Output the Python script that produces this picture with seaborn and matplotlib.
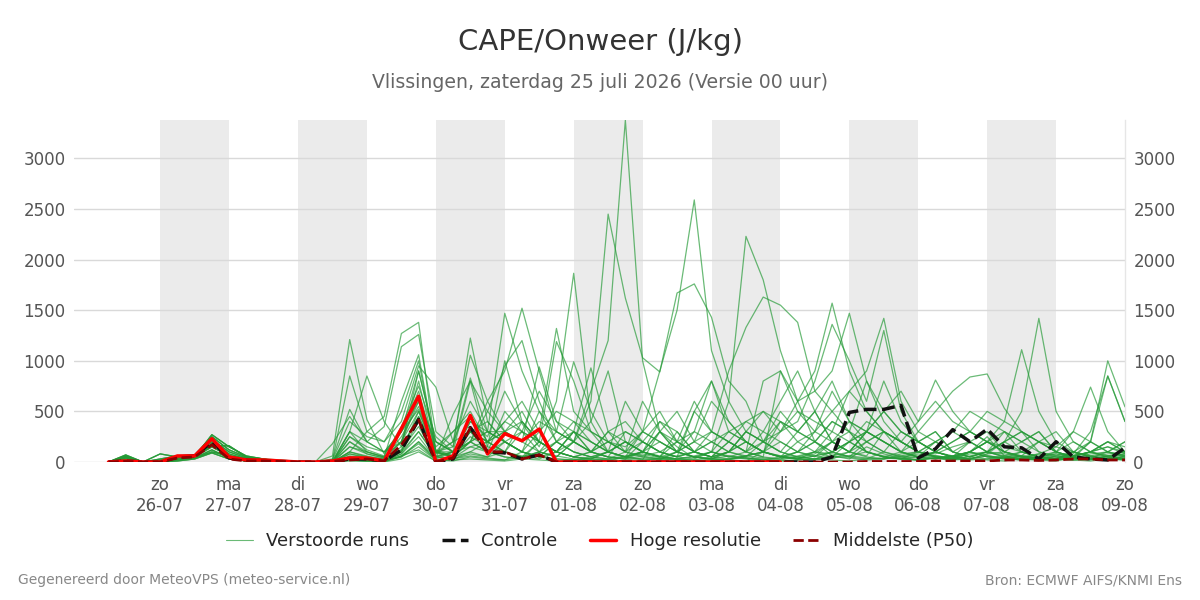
import pandas as pd
import seaborn as sns
import matplotlib.pyplot as plt
from matplotlib.lines import Line2D

# -------- DATA (CAPE in J/kg, 6-hourly from 25-07 06:00) --------
start_time = "2026-07-25 06:00"
n_steps = 60

early = {
    1: [0, 10, 0, 0, 40, 50, 180, 60, 20, 10],
    2: [0, 60, 0, 0, 50, 60, 200, 80, 30, 20],
    3: [0, 20, 0, 20, 40, 50, 150, 60, 20, 10],
    4: [0, 30, 0, 0, 30, 60, 220, 100, 40, 20],
    5: [0, 40, 0, 10, 60, 70, 250, 120, 50, 30],
    6: [0, 50, 0, 0, 20, 40, 120, 40, 10, 10],
    7: [0, 20, 0, 80, 50, 40, 100, 60, 30, 20],
    8: [0, 70, 0, 0, 30, 50, 270, 150, 60, 30],
    9: [0, 5, 0, 0, 10, 30, 90, 30, 10, 5],
    10: [0, 50, 0, 30, 60, 60, 160, 160, 50, 20],
}

# (early pattern, rest of the run from step 10 onwards)
members = [
    (1, [5, 0, 0, 60, 1210, 420, 80, 300, 520, 120, 60, 400, 250, 700, 380, 150, 600, 1865, 400, 100,
         50, 20, 300, 150, 40, 100, 600, 2230, 1800, 1100, 600, 200, 60, 30, 150, 80, 40, 20, 100, 60,
         30, 80, 200, 500, 1420, 500, 200, 100, 150, 80]),
    (2, [10, 0, 0, 20, 850, 300, 450, 1270, 1380, 100, 50, 200, 300, 1470, 900, 500, 300, 200, 600, 2450,
         1620, 1030, 890, 1670, 1760, 1430, 800, 600, 200, 100, 300, 500, 800, 400, 200, 100, 50, 20, 40, 10,
         100, 250, 60, 30, 20, 10, 40, 200, 100, 50]),
    (3, [5, 0, 0, 10, 300, 850, 400, 150, 900, 200, 100, 300, 200, 400, 300, 100, 50, 200, 700, 1200,
         3380, 1000, 300, 100, 50, 30, 20, 10, 100, 400, 300, 200, 100, 50, 30, 100, 300, 200, 100, 50,
         30, 20, 10, 40, 80, 30, 20, 10, 30, 20]),
    (4, [10, 0, 0, 30, 520, 200, 350, 1140, 1260, 300, 150, 1225, 400, 200, 300, 700, 400, 300, 100, 200,
         150, 300, 900, 1500, 2590, 1100, 600, 300, 200, 500, 300, 200, 400, 300, 100, 50, 30, 60, 100, 50,
         200, 100, 80, 50, 40, 30, 100, 60, 30, 40]),
    (5, [10, 5, 0, 20, 400, 250, 200, 500, 1000, 100, 200, 1055, 600, 900, 1520, 900, 300, 990, 500, 200,
         100, 600, 300, 100, 200, 300, 900, 1330, 1630, 1550, 1380, 700, 500, 300, 800, 400, 200, 100, 80, 150,
         200, 300, 100, 50, 80, 150, 300, 200, 100, 60]),
    (6, [5, 0, 0, 0, 200, 100, 50, 600, 1060, 100, 300, 500, 200, 100, 50, 200, 100, 300, 200, 100,
         50, 100, 400, 200, 600, 300, 200, 100, 50, 900, 500, 300, 200, 100, 50, 30, 60, 100, 200, 100,
         50, 100, 200, 100, 50, 30, 20, 40, 100, 200]),
    (7, [10, 0, 0, 0, 100, 300, 200, 400, 950, 740, 200, 600, 300, 200, 100, 500, 200, 100, 50, 100,
         200, 100, 50, 300, 100, 50, 200, 100, 300, 600, 900, 500, 200, 100, 300, 800, 400, 200, 300, 100,
         50, 30, 60, 100, 200, 150, 100, 50, 80, 100]),
    (8, [20, 5, 0, 0, 300, 200, 100, 300, 900, 200, 100, 800, 500, 950, 1200, 600, 200, 300, 100, 50,
         300, 200, 100, 50, 500, 800, 300, 200, 100, 50, 30, 100, 300, 700, 500, 300, 100, 50, 200, 300,
         500, 400, 300, 100, 50, 40, 80, 300, 850, 400]),
    (9, [0, 0, 0, 0, 150, 100, 50, 200, 800, 100, 50, 300, 200, 400, 600, 300, 1320, 500, 300, 200,
         100, 50, 30, 100, 200, 600, 400, 200, 100, 50, 200, 300, 700, 400, 300, 200, 100, 50, 30, 60,
         100, 50, 30, 20, 40, 30, 60, 100, 200, 150]),
    (10, [10, 0, 0, 0, 250, 150, 100, 300, 700, 100, 100, 400, 300, 300, 500, 200, 1190, 800, 300, 100,
          600, 300, 200, 100, 50, 30, 100, 300, 200, 100, 50, 30, 100, 200, 300, 500, 300, 200, 100, 50,
          30, 80, 100, 200, 300, 100, 50, 100, 200, 100]),
    (1, [0, 0, 0, 0, 100, 50, 20, 300, 600, 50, 100, 300, 200, 100, 50, 100, 300, 200, 400, 900,
         200, 100, 50, 200, 300, 800, 400, 200, 100, 300, 600, 900, 1570, 900, 500, 300, 200, 100, 50, 30,
         50, 100, 200, 300, 100, 50, 30, 60, 100, 200]),
    (2, [0, 0, 0, 0, 300, 100, 50, 200, 500, 100, 50, 200, 500, 300, 200, 400, 300, 200, 100, 50,
         30, 200, 400, 300, 100, 200, 300, 400, 500, 300, 400, 800, 1360, 1000, 600, 1300, 500, 200, 100, 50,
         100, 200, 150, 100, 50, 30, 60, 100, 200, 100]),
    (3, [0, 0, 0, 0, 50, 30, 20, 100, 400, 50, 30, 100, 50, 200, 100, 50, 200, 400, 300, 200,
         100, 300, 200, 100, 500, 300, 200, 100, 800, 900, 600, 700, 900, 1470, 800, 500, 300, 200, 100, 50,
         100, 200, 100, 50, 30, 20, 40, 80, 100, 60]),
    (4, [0, 0, 0, 180, 450, 200, 100, 200, 600, 200, 100, 300, 400, 200, 100, 50, 100, 200, 100, 300,
         400, 200, 100, 50, 30, 100, 300, 200, 100, 50, 100, 300, 500, 700, 900, 1420, 600, 300, 200, 100,
         50, 100, 200, 300, 200, 100, 50, 30, 20, 60]),
    (5, [0, 0, 0, 0, 50, 20, 10, 100, 300, 50, 100, 200, 100, 500, 300, 200, 100, 300, 200, 100,
         50, 300, 500, 200, 100, 50, 200, 400, 300, 200, 100, 50, 200, 400, 300, 500, 700, 400, 810, 500,
         300, 200, 400, 300, 200, 100, 50, 30, 60, 100]),
    (6, [0, 0, 0, 0, 30, 20, 10, 50, 200, 20, 50, 100, 200, 300, 400, 200, 100, 50, 30, 100,
         200, 100, 50, 100, 300, 200, 100, 50, 200, 400, 300, 500, 200, 100, 300, 200, 100, 300, 500, 700,
         840, 870, 530, 300, 200, 100, 50, 100, 150, 100]),
    (7, [0, 0, 0, 0, 80, 50, 30, 150, 450, 100, 60, 200, 300, 200, 100, 300, 500, 400, 200, 100,
         50, 100, 300, 200, 100, 50, 100, 300, 500, 400, 200, 100, 50, 200, 400, 300, 200, 400, 600, 400,
         300, 500, 400, 1110, 500, 200, 100, 50, 30, 60]),
    (8, [0, 0, 0, 0, 200, 80, 40, 120, 350, 50, 40, 150, 200, 100, 300, 200, 100, 50, 100, 300,
         200, 100, 300, 500, 200, 100, 50, 100, 200, 300, 500, 400, 300, 200, 100, 50, 100, 200, 300, 100,
         200, 100, 300, 200, 300, 100, 300, 740, 300, 100]),
    (9, [0, 0, 0, 0, 40, 20, 10, 80, 250, 30, 100, 200, 100, 50, 30, 100, 200, 100, 50, 30,
         100, 200, 100, 50, 100, 300, 200, 100, 50, 30, 100, 200, 100, 50, 200, 300, 200, 100, 50, 30,
         100, 50, 30, 60, 200, 300, 100, 200, 1000, 545]),
    (10, [0, 0, 0, 0, 20, 10, 5, 60, 180, 20, 30, 80, 50, 100, 60, 30, 100, 50, 30, 20,
          50, 80, 40, 30, 50, 100, 60, 40, 30, 20, 50, 100, 80, 60, 40, 30, 80, 100, 60, 40,
          30, 60, 40, 100, 50, 80, 60, 200, 850, 400]),
    (1, [0, 0, 0, 0, 60, 40, 20, 100, 500, 80, 200, 300, 100, 50, 30, 200, 100, 50, 30, 100,
         50, 30, 20, 100, 50, 30, 20, 60, 100, 50, 30, 60, 100, 200, 100, 50, 30, 20, 60, 40,
         80, 100, 60, 40, 30, 20, 60, 100, 50, 30]),
    (2, [0, 0, 0, 0, 100, 60, 30, 200, 650, 150, 300, 450, 200, 300, 200, 100, 50, 200, 100, 50,
         30, 100, 200, 100, 50, 30, 100, 200, 100, 60, 40, 80, 200, 300, 200, 100, 60, 40, 100, 200,
         300, 200, 100, 60, 40, 30, 100, 60, 40, 80]),
    (3, [0, 0, 0, 0, 20, 10, 5, 50, 150, 20, 10, 50, 30, 20, 100, 50, 30, 20, 10, 5,
         20, 40, 30, 20, 10, 30, 60, 40, 20, 10, 20, 30, 60, 40, 20, 30, 50, 80, 40, 20,
         30, 60, 40, 20, 50, 80, 40, 30, 60, 40]),
    (4, [0, 0, 0, 0, 30, 20, 10, 80, 300, 60, 100, 150, 100, 200, 100, 50, 200, 100, 50, 30,
         60, 100, 50, 30, 20, 50, 100, 300, 200, 100, 50, 30, 60, 100, 300, 200, 100, 50, 30, 60,
         100, 200, 100, 60, 40, 100, 200, 100, 60, 30]),
    (5, [0, 0, 0, 0, 150, 80, 40, 250, 550, 100, 150, 830, 300, 200, 100, 50, 30, 20, 50, 100,
         200, 100, 50, 30, 60, 100, 50, 30, 20, 50, 100, 200, 400, 300, 100, 50, 30, 100, 200, 300,
         200, 100, 50, 30, 60, 100, 50, 30, 20, 40]),
    (6, [0, 0, 0, 0, 10, 5, 0, 30, 100, 10, 20, 30, 20, 10, 30, 20, 10, 20, 30, 20,
         10, 20, 30, 20, 10, 20, 30, 40, 20, 10, 20, 30, 20, 10, 30, 40, 30, 20, 40, 30,
         20, 30, 40, 60, 40, 30, 20, 30, 40, 20]),
    (7, [0, 0, 0, 0, 50, 30, 10, 60, 200, 40, 470, 800, 150, 100, 400, 200, 100, 50, 100, 200,
         300, 200, 100, 50, 100, 200, 100, 60, 40, 30, 60, 100, 200, 100, 60, 300, 200, 100, 50, 30,
         60, 100, 50, 30, 20, 40, 60, 100, 50, 30]),
    (8, [0, 0, 0, 0, 250, 120, 60, 350, 750, 250, 100, 200, 600, 300, 200, 940, 400, 200, 100, 50,
         30, 60, 100, 200, 100, 50, 100, 200, 100, 50, 30, 60, 100, 200, 300, 200, 100, 50, 100, 200,
         300, 200, 100, 50, 30, 60, 100, 50, 30, 20]),
    (9, [0, 0, 0, 0, 30, 15, 5, 60, 120, 10, 30, 60, 40, 20, 50, 100, 60, 30, 20, 10,
         50, 100, 60, 30, 20, 10, 30, 60, 100, 60, 30, 20, 40, 60, 100, 60, 30, 20, 40, 60,
         100, 60, 40, 20, 30, 60, 40, 20, 60, 80]),
    (10, [0, 0, 0, 0, 80, 40, 20, 120, 450, 90, 60, 250, 150, 1000, 400, 200, 100, 300, 930, 300,
          100, 60, 30, 60, 100, 50, 30, 60, 100, 200, 100, 60, 30, 100, 200, 300, 200, 100, 60, 40,
          100, 200, 300, 200, 100, 60, 40, 30, 20, 30]),
]

controle = [0, 10, 0, 0, 50, 60, 200, 40, 20, 10, 5, 0, 0, 5, 30, 30, 10, 120, 420, 0,
            30, 340, 100, 90, 30, 70, 0, 0, 0, 0, 0, 0, 0, 0, 0, 0, 0, 0, 0, 0,
            0, 0, 50, 490, 520, 520, 560, 40, 130, 320, 200, 325, 150, 140, 30, 200, 50, 30, 20, 140]
hoge_resolutie = [0, 10, 0, 0, 60, 60, 230, 50, 20, 20, 10, 0, 0, 10, 40, 40, 10, 330, 650, 0,
                  60, 460, 80, 280, 210, 325, 0, 0, 0, 0, 0, 0, 0, 0, 0, 0, 0, 0, 0, 0]
middelste = [0, 5, 0, 0, 40, 50, 170, 30, 10, 10, 5, 0, 0, 5, 20, 30, 10, 170, 415, 0,
             40, 335, 100, 100, 30, 70, 0, 0, 0, 0, 0, 0, 0, 0, 0, 0, 0, 0, 0, 0,
             0, 0, 0, 0, 5, 5, 5, 5, 10, 10, 10, 10, 20, 20, 15, 20, 30, 30, 20, 20]

tick_dates = pd.date_range("2026-07-26", "2026-08-09", freq="D")
tick_days = ["zo", "ma", "di", "wo", "do", "vr", "za"] * 2 + ["zo"]
tick_labels = [f"{d}\n{t:%d-%m}" for d, t in zip(tick_days, tick_dates)]

# -------- FRAMES --------
times = pd.date_range(start_time, periods=n_steps, freq="6h")
rows = []
for m, (e, rest) in enumerate(members):
    for t, v in zip(times, early[e] + rest):
        rows.append({"member": m, "tijd": t, "cape": v})
df_ens = pd.DataFrame(rows)
df_ctrl = pd.DataFrame({"tijd": times, "cape": controle})
df_hres = pd.DataFrame({"tijd": times[:len(hoge_resolutie)], "cape": hoge_resolutie})
df_p50 = pd.DataFrame({"tijd": times, "cape": middelste})

# -------- PLOT --------
sns.set_style("white")
plt.rcParams["font.family"] = ["DejaVu Sans"]

fig = plt.figure(figsize=(12, 6), dpi=100)
ax = fig.add_axes([0.0617, 0.23, 0.8758, 0.57])

green = "#249a36"
sns.lineplot(data=df_ens, x="tijd", y="cape", units="member", estimator=None,
             color=green, lw=0.9, alpha=0.68, legend=False, ax=ax, zorder=3)
sns.lineplot(data=df_ctrl, x="tijd", y="cape", color="#111111", lw=2.5,
             linestyle="--", ax=ax, zorder=4)
sns.lineplot(data=df_hres, x="tijd", y="cape", color="#ff0000", lw=2.5, ax=ax, zorder=5)
sns.lineplot(data=df_p50, x="tijd", y="cape", color="#8b0000", lw=2,
             linestyle="--", ax=ax, zorder=6)

# shaded alternate days
for d in tick_dates[:-1:2]:
    ax.axvspan(d, d + pd.Timedelta(days=1), color="#ebebeb", lw=0, zorder=0)

ax.set_xlim(pd.Timestamp("2026-07-24 18:00"), tick_dates[-1])
ax.set_ylim(0, df_ens["cape"].max())
ax.set_yticks([0, 500, 1000, 1500, 2000, 2500, 3000])
ax.grid(axis="y", color="#d9d9d9", lw=1, zorder=1)
ax.set_axisbelow(True)
ax.set_xticks(tick_dates)
ax.set_xticklabels(tick_labels)
ax.tick_params(axis="x", length=6, width=1.5, color="#666666", labelsize=12,
               labelcolor="#555555", pad=4)
ax.tick_params(axis="y", length=0, labelsize=12, labelcolor="#555555",
               labelright=True, pad=6)
ax.set_xlabel("")
ax.set_ylabel("")
for s in ["left", "top", "bottom"]:
    ax.spines[s].set_visible(False)
ax.spines["right"].set_color("#e6e6e6")
ax.spines["right"].set_linewidth(1)

fig.text(0.5, 0.93, "CAPE/Onweer (J/kg)", ha="center", va="center",
         fontsize=21, color="#333333")
fig.text(0.5, 0.862, "Vlissingen, zaterdag 25 juli 2026 (Versie 00 uur)",
         ha="center", va="center", fontsize=13.6, color="#666666")

handles = [
    Line2D([], [], color=green, lw=0.8, alpha=0.68),
    Line2D([], [], color="#111111", lw=2.5, linestyle="--"),
    Line2D([], [], color="#ff0000", lw=2.5),
    Line2D([], [], color="#8b0000", lw=2, linestyle="--"),
]
fig.legend(handles, ["Verstoorde runs", "Controle", "Hoge resolutie", "Middelste (P50)"],
           loc="center", bbox_to_anchor=(0.5, 0.098), ncol=4, frameon=False,
           fontsize=13, handlelength=1.45, handletextpad=0.75, columnspacing=1.8)

fig.text(0.015, 0.033, "Gegenereerd door MeteoVPS (meteo-service.nl)",
         ha="left", va="center", fontsize=10, color="#888888")
fig.text(0.985, 0.033, "Bron: ECMWF AIFS/KNMI Ens",
         ha="right", va="center", fontsize=10, color="#888888")

fig.savefig("out.png", dpi=100)
